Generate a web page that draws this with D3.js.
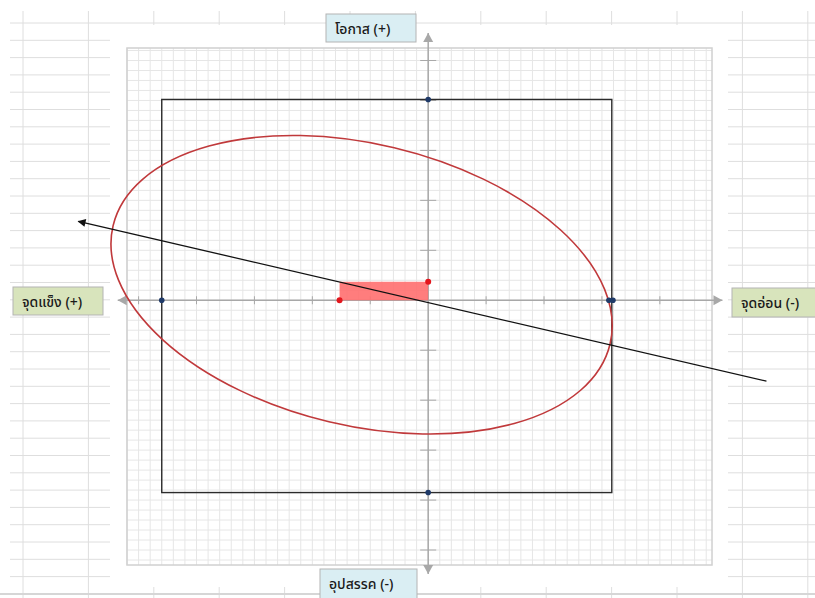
<!DOCTYPE html>
<html lang="th">
<head>
<meta charset="UTF-8">
<title>SWOT matrix</title>
<script src="https://d3js.org/d3.v7.min.js"></script>
<style>
  body { margin: 0; background: #fff; }
  svg text { font-family: "Noto Sans Thai", "Noto Sans", "DejaVu Sans", sans-serif; }
</style>
</head>
<body>
<svg id="chart" width="815" height="598"></svg>
<script>
// axis labels (quadrant names)
const axisLabels = ["โอกาส (+)", "อุปสรรค (-)", "จุดแข็ง (+)", "จุดอ่อน (-)"];

// scores plotted on the axes: strength (left), weakness (right), opportunity (up), threat (down)
const scoreX = [-4.6, 3.12, 3.19];
const scoreY = [4.02, -3.85];
const squareBox = [-4.6, 3.17, -3.85, 4.02];     // x0, x1, y0, y1

// resultant rectangle and its corner points
const resultX = [-1.53, 0];
const resultY = [0, 0.37];

// strategy direction line (start -> arrow tip)
const dirX = [5.84, -6.04];
const dirY = [-1.62, 1.58];

// ellipse: centre x, centre y, radius x, radius y (data units), tilt in degrees
const ellipse = [-1.15, 0.31, 4.41, 2.82, 13.4];

const xTicks = [-5, -4, -3, -2, -1, 1, 2, 3, 4];
const yTicks = [-5, -4, -3, -2, -1, 1, 2, 3, 4, 4.8];

const svg = d3.select("#chart");

// spreadsheet behind the chart
const sheet = svg.append("g").attr("stroke", "#dedede").attr("stroke-width", 1);
d3.range(0, 34).forEach(i => {
    const yy = 23 + i * 17.3;
    sheet.append("line").attr("x1", 10).attr("x2", 815).attr("y1", yy).attr("y2", yy);
});
d3.range(0, 13).forEach(i => {
    const xx = 23 + i * 65.4;
    sheet.append("line").attr("x1", xx).attr("x2", xx).attr("y1", 11).attr("y2", 598);
});
svg.append("line").attr("x1", 0).attr("x2", 815).attr("y1", 594).attr("y2", 594)
    .attr("stroke", "#d6d6d6").attr("stroke-width", 2);

// chart area
svg.append("rect").attr("x", 110).attr("y", 25).attr("width", 618).attr("height", 562)
    .attr("fill", "#fff");

const x = d3.scaleLinear().domain([-5.2, 4.9]).range([127, 712]);
const y = d3.scaleLinear().domain([-5.3, 5.05]).range([565, 48]);

// plot area grid
const grid = svg.append("g").attr("stroke", "#e6e6e6").attr("stroke-width", 1);
d3.range(-5.2, 4.91, 0.2).forEach(v => {
    grid.append("line").attr("x1", x(v)).attr("x2", x(v)).attr("y1", 48).attr("y2", 565);
});
d3.range(-5.2, 5.06, 0.2).forEach(v => {
    grid.append("line").attr("y1", y(v)).attr("y2", y(v)).attr("x1", 127).attr("x2", 712);
});
svg.append("rect").attr("x", 127).attr("y", 48).attr("width", 585).attr("height", 517)
    .attr("fill", "none").attr("stroke", "#d0d0d0").attr("stroke-width", 1.5);

// axes with arrow heads
const axisColor = "#a8a8a8";
const ax = svg.append("g").attr("stroke", axisColor).attr("stroke-width", 1.5);
ax.append("line").attr("x1", x(-5.36)).attr("x2", x(5.08)).attr("y1", y(0)).attr("y2", y(0));
ax.append("line").attr("x1", x(0)).attr("x2", x(0)).attr("y1", y(5.35)).attr("y2", y(-5.48));
ax.selectAll(".xt").data(xTicks).join("line")
    .attr("x1", d => x(d)).attr("x2", d => x(d))
    .attr("y1", y(0) - 4).attr("y2", y(0) + 4).attr("stroke-width", 1);
ax.selectAll(".yt").data(yTicks).join("line")
    .attr("y1", d => y(d)).attr("y2", d => y(d))
    .attr("x1", x(0) - 8).attr("x2", x(0) + 8).attr("stroke-width", 1);

const tri = (px, py, dir) => {
    const s = 5;
    const pts = {
        left:  [[px, py], [px + 9, py - s], [px + 9, py + s]],
        right: [[px, py], [px - 9, py - s], [px - 9, py + s]],
        up:    [[px, py], [px - s, py + 9], [px + s, py + 9]],
        down:  [[px, py], [px - s, py - 9], [px + s, py - 9]]
    }[dir];
    svg.append("polygon").attr("points", pts.map(p => p.join(",")).join(" "))
        .attr("fill", axisColor);
};
tri(x(-5.36), y(0), "left");
tri(x(5.08), y(0), "right");
tri(x(0), y(5.35), "up");
tri(x(0), y(-5.48), "down");

// score square
svg.append("rect")
    .attr("x", x(squareBox[0])).attr("y", y(squareBox[3]))
    .attr("width", x(squareBox[1]) - x(squareBox[0]))
    .attr("height", y(squareBox[2]) - y(squareBox[3]))
    .attr("fill", "none").attr("stroke", "#2b2b2b").attr("stroke-width", 1.4);

// resultant rectangle
svg.append("rect")
    .attr("x", x(resultX[0])).attr("y", y(resultY[1]))
    .attr("width", x(resultX[1]) - x(resultX[0]))
    .attr("height", y(resultY[0]) - y(resultY[1]))
    .attr("fill", "#ff6f6f").attr("fill-opacity", 0.9);

// ellipse
svg.append("ellipse")
    .attr("transform", `translate(${x(ellipse[0])},${y(ellipse[1])}) rotate(${ellipse[4]})`)
    .attr("rx", x(ellipse[2]) - x(0))
    .attr("ry", y(0) - y(ellipse[3]))
    .attr("fill", "none").attr("stroke", "#c0393b").attr("stroke-width", 1.6);

// direction line with arrow
svg.append("defs").append("marker")
    .attr("id", "arrow").attr("viewBox", "0 0 10 10").attr("refX", 9).attr("refY", 5)
    .attr("markerWidth", 10).attr("markerHeight", 8).attr("markerUnits", "userSpaceOnUse")
    .attr("orient", "auto")
  .append("path").attr("d", "M0,0 L10,5 L0,10 z").attr("fill", "#111");
svg.append("line")
    .attr("x1", x(dirX[0])).attr("y1", y(dirY[0]))
    .attr("x2", x(dirX[1])).attr("y2", y(dirY[1]))
    .attr("stroke", "#111").attr("stroke-width", 1.3)
    .attr("marker-end", "url(#arrow)");

// score points
svg.selectAll(".sx").data(scoreX).join("circle")
    .attr("cx", d => x(d)).attr("cy", y(0)).attr("r", 2.8).attr("fill", "#1f3a68");
svg.selectAll(".sy").data(scoreY).join("circle")
    .attr("cx", x(0)).attr("cy", d => y(d)).attr("r", 2.8).attr("fill", "#1f3a68");

// resultant points
svg.selectAll(".rp").data([[resultX[0], resultY[0]], [resultX[1], resultY[1]]]).join("circle")
    .attr("cx", d => x(d[0])).attr("cy", d => y(d[1])).attr("r", 3).attr("fill", "#e3161d");

// label boxes
const boxes = [
    { t: axisLabels[0], x: 326, y: 14, w: 90, h: 28, fill: "#daeef3" },
    { t: axisLabels[1], x: 320, y: 569, w: 97, h: 32, fill: "#daeef3" },
    { t: axisLabels[2], x: 13, y: 287, w: 90, h: 28, fill: "#d8e4bc" },
    { t: axisLabels[3], x: 732, y: 288, w: 85, h: 29, fill: "#d8e4bc" }
];
boxes.forEach(b => {
    svg.append("rect").attr("x", b.x).attr("y", b.y).attr("width", b.w).attr("height", b.h)
        .attr("fill", b.fill).attr("stroke", "#b4b4b4").attr("stroke-width", 1);
    svg.append("text").attr("x", b.x + 9).attr("y", b.y + 20)
        .attr("font-size", 14).attr("font-weight", 500).attr("fill", "#1a1a1a").text(b.t);
});
</script>
</body>
</html>
